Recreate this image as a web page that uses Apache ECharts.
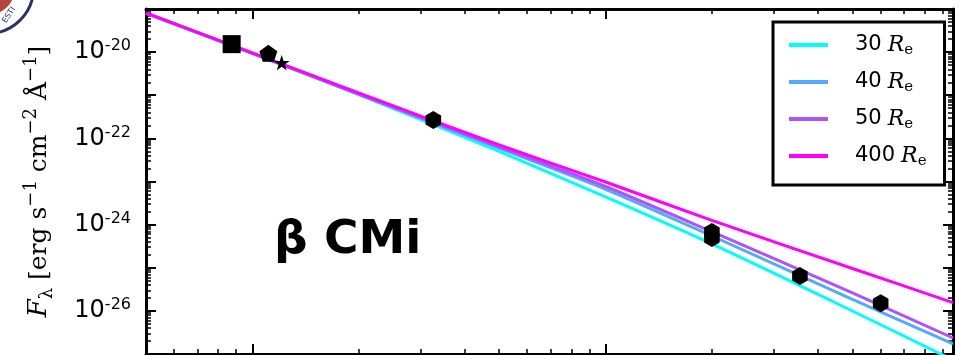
<!DOCTYPE html>
<html>
<head>
<meta charset="utf-8">
<script src="https://cdn.jsdelivr.net/npm/echarts@6.0.0/dist/echarts.min.js"></script>
<style>
html, body { margin: 0; padding: 0; background: #fff; }
#chart { width: 959px; height: 355px; }
</style>
</head>
<body>
<div id="chart"></div>
<script>
// Model SEDs of the disk, sampled in wavelength (micron), F_lambda in erg/s/cm2/A
const modelWave = [0.5, 1, 2, 5, 10, 20, 50, 96.3];
const flux30Re  = [7.94e-20, 9.29e-21, 1.04e-21, 4.97e-23, 4.38e-24, 3.56e-25, 9.93e-27, 7.26e-28];
const flux40Re  = [8.00e-20, 9.40e-21, 1.06e-21, 5.92e-23, 6.59e-24, 5.45e-25, 1.85e-26, 1.71e-27];
const flux50Re  = [8.04e-20, 9.44e-21, 1.07e-21, 6.31e-23, 7.66e-24, 6.85e-25, 2.62e-26, 2.35e-27];
const flux400Re = [8.07e-20, 9.59e-21, 1.13e-21, 7.02e-23, 9.73e-24, 1.25e-24, 9.62e-26, 1.56e-26];
const modelRadii = ['30', '40', '50', '400'];
const modelColors = ['#00ffff', '#55aaff', '#aa55ff', '#ff00ff'];

// Observed photometry
const squareWave = [0.874];
const squareFlux = [1.53e-20];
const pentagonWave = [1.11];
const pentagonFlux = [9.40e-21];
const starWave = [1.211];
const starFlux = [5.69e-21];
const hexagonWave = [3.254, 20.0, 20.0, 35.5, 60.1];
const hexagonFlux = [2.67e-22, 6.75e-25, 4.90e-25, 6.44e-26, 1.50e-26];

// Axis ranges and ticks
const xRange = [0.5, 96.3];
const yRange = [1e-27, 1e-19];
const xMajorTicks = [1, 10];
const xMinorTicks = [0.6, 0.7, 0.8, 0.9, 2, 3, 4, 5, 6, 7, 8, 9, 20, 30, 40, 50, 60, 70, 80, 90];
const yDecadeExponents = [-27, -26, -25, -24, -23, -22, -21, -20, -19];
const yLabelExponents = [-20, -22, -24, -26];
const mantissas = [2, 3, 4, 5, 6, 7, 8, 9];

const yMajorTicks = yDecadeExponents.map(e => Number('1e' + e));
const yLabelValues = yLabelExponents.map(e => Number('1e' + e));
const yMinorTicks = [];
yDecadeExponents.slice(0, -1).forEach(e => {
  mantissas.forEach(m => yMinorTicks.push(Number(m + 'e' + e)));
});

const pairs = (xs, ys) => xs.map((x, i) => [x, ys[i]]);
const modelFluxes = [flux30Re, flux40Re, flux50Re, flux400Re];

const INK = '#000';
const SANS = 'DejaVu Sans';
const SERIF = 'DejaVu Serif';

function xAxisDef(position, ticks, length, showLine) {
  return {
    type: 'log', logBase: 10, min: xRange[0], max: xRange[1], position: position,
    axisLine: { show: showLine, onZero: false, lineStyle: { color: INK, width: 3 } },
    axisTick: { show: true, inside: true, length: length, customValues: ticks,
                lineStyle: { color: INK, width: length > 6 ? 2 : 1.5 } },
    axisLabel: { show: false },
    splitLine: { show: false }, minorTick: { show: false }, minorSplitLine: { show: false }
  };
}

function yAxisDef(position, ticks, length, showLine, withLabels) {
  const def = {
    type: 'log', logBase: 10, min: yRange[0], max: yRange[1], position: position,
    axisLine: { show: showLine, onZero: false, lineStyle: { color: INK, width: 3 } },
    axisTick: { show: true, inside: true, length: length, customValues: ticks,
                lineStyle: { color: INK, width: length > 6 ? 2 : 1.5 } },
    axisLabel: { show: false },
    splitLine: { show: false }, minorTick: { show: false }, minorSplitLine: { show: false }
  };
  if (withLabels) {
    def.axisLabel = {
      show: true, margin: 15, customValues: yLabelValues,
      formatter: v => '{b|10}{s|' + Math.round(Math.log10(v)) + '}',
      rich: {
        b: { fontFamily: SANS, fontSize: 24, color: INK, lineHeight: 28 },
        s: { fontFamily: SANS, fontSize: 16, color: INK, lineHeight: 16, verticalAlign: 'top' }
      }
    };
    def.name = '{i|F}{sub|λ}{t| [erg s}{sup|−1}{t| cm}{sup|−2}{t| Å}{sup|−1}{t|]}';
    def.nameLocation = 'middle';
    def.nameRotate = 90;
    def.nameGap = 90;
    def.nameTextStyle = {
      rich: {
        i: { fontFamily: SERIF, fontStyle: 'italic', fontSize: 26, color: INK, lineHeight: 34 },
        sub: { fontFamily: SERIF, fontSize: 18, color: INK, lineHeight: 17, verticalAlign: 'bottom' },
        t: { fontFamily: SERIF, fontSize: 25, color: INK, lineHeight: 34 },
        sup: { fontFamily: SERIF, fontSize: 18, color: INK, lineHeight: 17, verticalAlign: 'top' }
      }
    };
  }
  return def;
}

const HEXAGON = 'path://M0,-10 L8.66,-5 L8.66,5 L0,10 L-8.66,5 L-8.66,-5 Z';
const PENTAGON = 'path://M0,-10 L9.51,-3.09 L5.88,8.09 L-5.88,8.09 L-9.51,-3.09 Z';
const STAR = 'path://M0,-10 L2.245,-3.09 L9.51,-3.09 L3.633,1.18 L5.878,8.09 L0,3.82 L-5.878,8.09 L-3.633,1.18 L-9.51,-3.09 L-2.245,-3.09 Z';

const lineSeries = modelRadii.map((r, i) => ({
  name: r, type: 'line', xAxisIndex: 0, yAxisIndex: 0,
  data: pairs(modelWave, modelFluxes[i]),
  showSymbol: false, symbol: 'none', smooth: 0.25,
  color: modelColors[i],
  lineStyle: { color: modelColors[i], width: 3 },
  z: 3 + i, silent: true, animation: false
}));

function markerSeries(name, xs, ys, symbol, size) {
  return {
    name: name, type: 'scatter', xAxisIndex: 0, yAxisIndex: 0,
    data: pairs(xs, ys), symbol: symbol, symbolSize: size, symbolKeepAspect: true,
    itemStyle: { color: INK, opacity: 1 }, z: 10, silent: true, animation: false
  };
}

const chart = echarts.init(document.getElementById('chart'), null, { renderer: 'canvas' });
chart.setOption({
  animation: false,
  backgroundColor: '#fff',
  grid: { left: 146, right: 6, top: 9, bottom: 1, containLabel: false, outerBoundsMode: 'none' },
  title: {
    text: 'β CMi', left: 274, top: 217, padding: 0,
    textStyle: { fontFamily: SANS, fontWeight: 'bold', fontSize: 47, color: INK }
  },
  legend: {
    data: modelRadii, orient: 'vertical', left: 773, top: 22, padding: [12, 18, 16, 16],
    backgroundColor: '#fff', borderColor: INK, borderWidth: 3, borderRadius: 0,
    icon: 'rect', itemWidth: 39, itemHeight: 4, itemGap: 13,
    selectedMode: false,
    formatter: name => '{n|' + name + '}{r|R}{s|e}',
    textStyle: {
      rich: {
        n: { fontFamily: SANS, fontSize: 21, color: INK, lineHeight: 26, padding: [0, 6, 0, 22] },
        r: { fontFamily: SERIF, fontStyle: 'italic', fontSize: 22, color: INK, lineHeight: 26 },
        s: { fontFamily: SERIF, fontSize: 15, color: INK, lineHeight: 15, verticalAlign: 'bottom' }
      }
    }
  },
  xAxis: [
    xAxisDef('bottom', xMajorTicks, 10, true),
    xAxisDef('bottom', xMinorTicks, 5, false),
    xAxisDef('top', xMajorTicks, 10, true),
    xAxisDef('top', xMinorTicks, 5, false)
  ],
  yAxis: [
    yAxisDef('left', yMajorTicks, 10, true, true),
    yAxisDef('left', yMinorTicks, 5, false, false),
    yAxisDef('right', yMajorTicks, 10, true, false),
    yAxisDef('right', yMinorTicks, 5, false, false)
  ],
  graphic: [
    { type: 'circle', shape: { cx: -12, cy: -12, r: 45.5 }, style: { fill: '#fff', stroke: '#2e3366', lineWidth: 3 }, z: 0 },
    { type: 'circle', shape: { cx: -12, cy: -12, r: 27 }, style: { fill: '#b5443f' }, z: 0 },
    { type: 'text', x: 9, y: 15, rotation: 1.0, z: 0,
      style: { text: 'ESTI', fontSize: 8, fontFamily: SANS, fill: '#2e3366', align: 'center', verticalAlign: 'middle' } }
  ],
  series: lineSeries.concat([
    markerSeries('square', squareWave, squareFlux, 'rect', 18),
    markerSeries('pentagon', pentagonWave, pentagonFlux, PENTAGON, 18),
    markerSeries('star', starWave, starFlux, STAR, 16),
    markerSeries('hexagon', hexagonWave, hexagonFlux, HEXAGON, 18)
  ])
});
</script>
</body>
</html>
